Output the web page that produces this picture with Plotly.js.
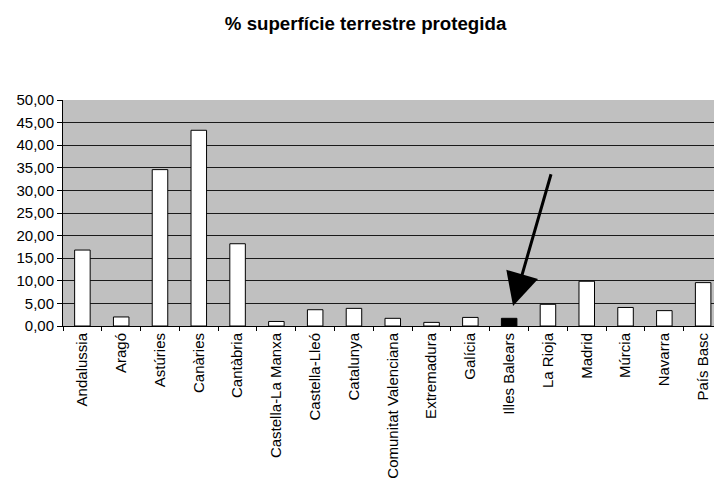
<!DOCTYPE html>
<html>
<head>
<meta charset="utf-8">
<script src="https://cdn.plot.ly/plotly-3.0.1.min.js"></script>
<style>html,body{margin:0;padding:0;background:#fff;}#chart{width:714px;height:479px;}</style>
</head>
<body>
<div id="chart"></div>
<script>
const regions = ["Andalussia","Aragó","Astúries","Canàries","Cantàbria","Castella-La Manxa","Castella-Lleó","Catalunya","Comunitat Valenciana","Extremadura","Galícia","Illes Balears","La Rioja","Madrid","Múrcia","Navarra","País Basc"];
const protectedPct = [16.8, 2.0, 34.6, 43.3, 18.2, 1.0, 3.6, 3.9, 1.7, 0.8, 1.9, 1.7, 4.8, 9.9, 4.1, 3.4, 9.6];
const highlighted = "Illes Balears";
const yTicks = [0,5,10,15,20,25,30,35,40,45,50];

const colors = regions.map(r => r === highlighted ? '#000000' : '#ffffff');
const idx = regions.indexOf(highlighted);

const trace = {
  type: 'bar',
  x: regions,
  y: protectedPct,
  marker: {color: colors, line: {color: '#000', width: 1}},
  hoverinfo: 'x+y'
};

const layout = {
  width: 714, height: 479,
  margin: {l: 63, r: 0, t: 100, b: 153},
  paper_bgcolor: '#ffffff',
  plot_bgcolor: '#c0c0c0',
  font: {family: 'Liberation Sans, Arial, sans-serif', size: 15, color: '#000'},
  separators: ',.',
  title: {text: '<b>% superfície terrestre protegida</b>', x: 0.512, xanchor: 'center', y: 0.952, yanchor: 'middle', font: {size: 18.7, family: 'Liberation Sans, Arial, sans-serif', color: '#000'}},
  bargap: 0.6,
  showlegend: false,
  xaxis: {
    type: 'category',
    range: [-0.5, 16.28],
    tickangle: -90,
    ticks: 'outside', ticklen: 4, tickcolor: '#000', tickson: 'boundaries',
    showline: true, linecolor: '#000', linewidth: 1,
    showgrid: false, zeroline: false,
    tickfont: {size: 15, color: '#000'},
    automargin: false,
    fixedrange: true
  },
  yaxis: {
    range: [0, 50],
    tickvals: yTicks,
    tickformat: '.2f',
    ticks: 'outside', ticklen: 5, tickcolor: '#000',
    showline: true, linecolor: '#000', linewidth: 1,
    showgrid: true, gridcolor: '#1a1a1a', gridwidth: 1,
    zeroline: false,
    tickfont: {size: 15, color: '#000'},
    automargin: false,
    fixedrange: true
  },
  annotations: [{
    x: idx + 0.1, y: 4.4, xref: 'x', yref: 'y',
    ax: idx + 1.09, ay: 33.9, axref: 'x', ayref: 'y',
    showarrow: true, arrowhead: 2, arrowsize: 2.2, arrowwidth: 3, arrowcolor: '#000',
    text: ''
  }]
};

Plotly.newPlot('chart', [trace], layout, {displayModeBar: false, staticPlot: true});
</script>
</body>
</html>
